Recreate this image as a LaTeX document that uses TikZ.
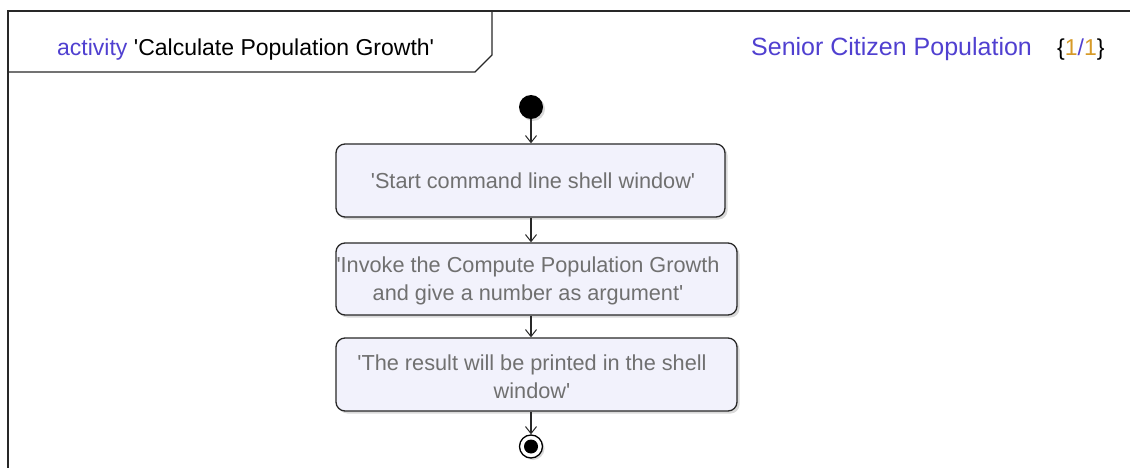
\documentclass[tikz,border=0pt]{standalone}
\usepackage{fontspec}
\setmainfont{Liberation Sans}
\usetikzlibrary{arrows.meta,shadows}
\definecolor{umlblue}{RGB}{80,64,208}
\definecolor{umlorange}{RGB}{214,154,40}
\definecolor{boxfill}{RGB}{242,242,252}
\definecolor{boxtext}{RGB}{112,112,112}
\definecolor{edge}{RGB}{40,40,40}
\newcommand{\apos}{\textquotesingle}
\tikzset{
  framestyle/.style={line width=1.6pt, draw=edge},
  actbox/.style={draw=edge, line width=1.3pt, rounded corners=9pt, fill=boxfill,
    inner sep=0pt,
    drop shadow={shadow xshift=2.5pt, shadow yshift=-2.5pt, opacity=0.3, fill=gray}},
  acttext/.style={text=boxtext, align=center, inner sep=0pt,
    font=\fontsize{21.7}{28}\selectfont},
  flow/.style={draw=edge, line width=1.3pt, -{Straight Barb[length=7pt,width=11pt,line width=1pt]}},
  headtext/.style={anchor=base west, inner sep=0pt, font=\fontsize{23}{27}\selectfont}
}
\begin{document}
\begin{tikzpicture}[x=1pt,y=-1pt]
\useasboundingbox (0,0) rectangle (1130,468);
% frame
\draw[framestyle] (8,468) -- (8,11) -- (1130,11);
\draw[line width=1.2pt, draw=edge] (8,72) -- (475,72) -- (492,55) -- (492,11);
% header texts
\node[headtext] (title) at (57,56) {\textcolor{umlblue}{activity} \apos Calculate Population Growth\apos};
\node[headtext, text=umlblue, font=\fontsize{25}{27}\selectfont] (ctx) at (751,56) {Senior Citizen Population};
\node[headtext] (page) at (1057,56) {\{\textcolor{umlorange}{1}\textcolor{umlblue}{/}\textcolor{umlorange}{1}\}};
% nodes
\node[circle, fill=black, minimum size=24pt, inner sep=0pt,
  drop shadow={shadow xshift=2pt, shadow yshift=-2pt, opacity=0.3, fill=gray}] (ini) at (531,107) {};
\node[actbox, minimum width=389pt, minimum height=73pt] (b1) at (530.5,180.5) {};
\node[acttext] (t1) at (533,180.5) {\apos Start command line shell window\apos};
\node[actbox, minimum width=401pt, minimum height=72pt] (b2) at (536.5,279) {};
\node[acttext] (t2) at (528,281) {\apos Invoke the Compute Population Growth\\and give a number as argument\apos};
\node[actbox, minimum width=401pt, minimum height=73pt] (b3) at (536.5,374.5) {};
\node[acttext] (t3) at (532,377) {\apos The result will be printed in the shell\\window\apos};
\node[circle, draw=black, line width=1.3pt, fill=white, minimum size=23pt, inner sep=0pt,
  drop shadow={shadow xshift=2pt, shadow yshift=-2pt, opacity=0.3, fill=gray}] (fin) at (531,446.5) {};
\node[circle, fill=black, minimum size=14pt, inner sep=0pt] (fininner) at (fin) {};
% connectors
\draw[flow] (ini.south) -- (ini |- b1.north);
\draw[flow] (ini |- b1.south) -- (ini |- b2.north);
\draw[flow] (ini |- b2.south) -- (ini |- b3.north);
\draw[flow] (ini |- b3.south) -- (fin.north);
\end{tikzpicture}
\end{document}
